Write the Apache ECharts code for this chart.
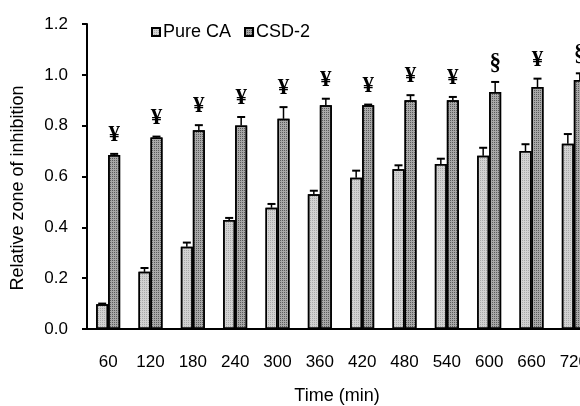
<!DOCTYPE html>
<html>
<head>
<meta charset="utf-8">
<script src="https://cdn.jsdelivr.net/npm/echarts@6/dist/echarts.min.js"></script>
<style>
  html, body { margin: 0; padding: 0; background: #fff; }
  #chart { width: 580px; height: 406px; }
</style>
</head>
<body>
<div id="chart"></div>
<script>
// time points (min)
const categories = ['60', '120', '180', '240', '300', '360', '420', '480', '540', '600', '660', '720'];
const pureCA = [0.097, 0.225, 0.324, 0.429, 0.477, 0.53, 0.595, 0.629, 0.649, 0.682, 0.70, 0.729];
const pureCAErr = [0.003, 0.015, 0.016, 0.008, 0.015, 0.014, 0.028, 0.015, 0.021, 0.031, 0.027, 0.038];
const csd2 = [0.685, 0.753, 0.782, 0.801, 0.827, 0.88, 0.88, 0.90, 0.90, 0.932, 0.952, 0.98];
const csd2Err = [0.004, 0.004, 0.02, 0.033, 0.046, 0.026, 0.003, 0.02, 0.013, 0.04, 0.033, 0.026];
const marks = ['¥', '¥', '¥', '¥', '¥', '¥', '¥', '¥', '¥', '§', '¥', '§'];

const font = 'Liberation Sans';
const chart = echarts.init(document.getElementById('chart'));

// draws the upper half of an error bar, plus the significance mark if any
function errorBar(offset, errs, labels) {
  return function (params, api) {
    const i = params.dataIndex;
    const base = api.coord([i, api.value(1)]);
    const end = api.coord([i, api.value(1) + errs[i]]);
    const x = base[0] + offset;
    const children = [
      { type: 'line', shape: { x1: x, y1: base[1], x2: x, y2: end[1] }, style: { stroke: '#000', lineWidth: 1.5 } },
      { type: 'line', shape: { x1: x - 4, y1: end[1], x2: x + 4, y2: end[1] }, style: { stroke: '#000', lineWidth: 2 } }
    ];
    if (labels && labels[i]) {
      children.push({
        type: 'text',
        x: x, y: end[1] - 19,
        style: { text: labels[i], textAlign: 'center', textVerticalAlign: 'middle', font: 'bold 23px "Liberation Serif"', fill: '#000' }
      });
    }
    return { type: 'group', children: children };
  };
}

const option = {
  animation: false,
  grid: { left: 87, width: 508, top: 24, bottom: 77, outerBoundsMode: 'none' },
  legend: {
    left: 146,
    top: 18,
    itemWidth: 8,
    itemHeight: 8,
    itemGap: 13,
    icon: 'rect',
    data: ['Pure CA', 'CSD-2'],
    textStyle: { fontFamily: font, fontSize: 18, color: '#000', padding: [0, 0, 0, -2] }
  },
  xAxis: {
    type: 'category',
    data: categories,
    axisLine: { lineStyle: { color: '#000', width: 2 } },
    axisTick: { length: 5, lineStyle: { color: '#000', width: 2 } },
    axisLabel: { fontFamily: font, fontSize: 17, color: '#000', margin: 25 }
  },
  yAxis: {
    type: 'value',
    min: 0,
    max: 1.2,
    interval: 0.2,
    axisLine: { show: true, lineStyle: { color: '#000', width: 2 } },
    axisTick: { show: true, length: 5, lineStyle: { color: '#000', width: 2 } },
    axisLabel: { fontFamily: font, fontSize: 17, color: '#000', margin: 19, formatter: v => v.toFixed(1) },
    splitLine: { show: false }
  },
  graphic: [
    {
      type: 'text', x: 18, y: 188, rotation: Math.PI / 2,
      style: { text: 'Relative zone of inhibition', textAlign: 'center', textVerticalAlign: 'middle', font: '18px "Liberation Sans"', fill: '#000' }
    },
    {
      type: 'text', x: 337, y: 396,
      style: { text: 'Time (min)', textAlign: 'center', textVerticalAlign: 'middle', font: '18px "Liberation Sans"', fill: '#000' }
    }
  ],
  series: [
    {
      name: 'Pure CA',
      type: 'bar',
      data: pureCA,
      barWidth: 12,
      barGap: '0%',
      itemStyle: {
        color: '#d2d2d2',
        borderColor: '#000',
        borderWidth: 1.5,
        decal: { symbol: 'rect', symbolSize: 1, dashArrayX: [1, 1], dashArrayY: [1, 1], color: 'rgba(120,120,120,0.45)', rotation: 0 }
      }
    },
    {
      name: 'CSD-2',
      type: 'bar',
      data: csd2,
      barWidth: 12,
      barGap: '0%',
      itemStyle: {
        color: '#a8a8a8',
        borderColor: '#000',
        borderWidth: 1.5,
        decal: { symbol: 'rect', symbolSize: 1, dashArrayX: [1, 1], dashArrayY: [1, 1], color: 'rgba(40,40,40,0.6)', rotation: 0 }
      }
    },
    {
      type: 'custom',
      z: 3,
      renderItem: errorBar(-6, pureCAErr, null),
      data: pureCA.map((v, i) => [i, v])
    },
    {
      type: 'custom',
      z: 3,
      renderItem: errorBar(6, csd2Err, marks),
      data: csd2.map((v, i) => [i, v])
    }
  ]
};

chart.setOption(option);
</script>
</body>
</html>
